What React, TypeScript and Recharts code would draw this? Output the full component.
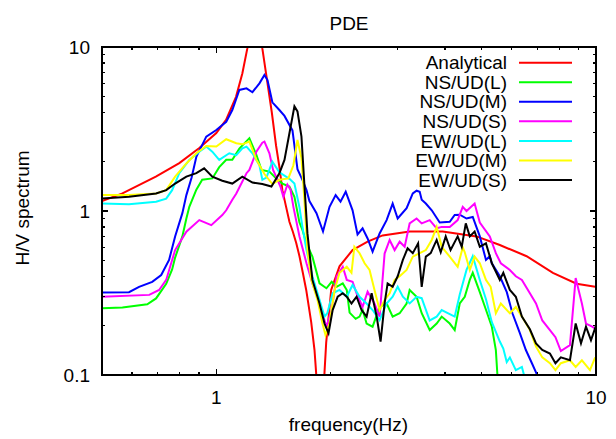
import React from 'react';
import { LineChart, Line, XAxis, YAxis, ReferenceLine } from 'recharts';

const FONT = '"Liberation Sans", Arial, Helvetica, sans-serif';
const W = 616;
const H = 439;
const MARGIN = { top: 47, right: 20, bottom: 34, left: 0 };
const X_AXIS_H = 30;
const Y_AXIS_W = 102;
const PLOT_X = MARGIN.left + Y_AXIS_W;
const PLOT_Y = MARGIN.top;
const PLOT_W = W - MARGIN.left - MARGIN.right - Y_AXIS_W;
const PLOT_H = H - MARGIN.top - MARGIN.bottom - X_AXIS_H;

const X_DOMAIN = [0.5, 10];
const Y_DOMAIN = [0.1, 10];
const X_TICKS = [0.5, 0.6, 0.7, 0.8, 0.9, 1, 2, 3, 4, 5, 6, 7, 8, 9, 10];
const X_MAJOR = [1, 10];
const Y_TICKS = [0.1, 0.2, 0.3, 0.4, 0.5, 0.6, 0.7, 0.8, 0.9, 1, 2, 3, 4, 5, 6, 7, 8, 9, 10];
const Y_MAJOR = [0.1, 1, 10];

const SERIES_NAMES = ['Analytical', 'NS/UD(L)', 'NS/UD(M)', 'NS/UD(S)', 'EW/UD(L)', 'EW/UD(M)', 'EW/UD(S)'];
const SERIES_COLORS = ['#ff0000', '#00ff00', '#0000ff', '#ff00ff', '#00ffff', '#ffff00', '#000000'];

const analyticalFreq = [0.5, 0.566, 0.693, 0.799, 0.902, 1.0, 1.061, 1.127, 1.171, 1.207, 1.265, 1.322, 1.352, 1.40, 1.437, 1.466, 1.493, 1.527, 1.558, 1.59, 1.623, 1.656, 1.69, 1.725, 1.778, 1.814, 1.832, 1.875, 1.927, 1.947, 2.007, 2.111, 2.285, 2.503, 2.742, 3.23, 3.947, 4.845, 5.581, 6.565, 7.70, 8.89, 9.95, 10];
const analyticalVal = [1.15, 1.28, 1.62, 1.96, 2.42, 2.99, 3.59, 4.97, 6.9, 9.8, 40, 9.8, 6.9, 4.0, 2.5, 1.86, 1.34, 1.06, 0.86, 0.75, 0.64, 0.53, 0.42, 0.33, 0.21, 0.142, 0.103, 0.02, 0.103, 0.157, 0.33, 0.46, 0.578, 0.65, 0.71, 0.75, 0.75, 0.70, 0.62, 0.53, 0.42, 0.36, 0.345, 0.345];

const nsLFreq = [0.5, 0.566, 0.658, 0.694, 0.738, 0.765, 0.779, 0.814, 0.834, 0.849, 0.886, 0.918, 0.976, 1.018, 1.062, 1.102, 1.15, 1.222, 1.275, 1.315, 1.38, 1.43, 1.493, 1.558, 1.606, 1.656, 1.686, 1.728, 1.791, 1.87, 1.95, 2.013, 2.075, 2.153, 2.206, 2.244, 2.328, 2.384, 2.428, 2.488, 2.58, 2.692, 2.809, 2.914, 3.04, 3.171, 3.23, 3.369, 3.475, 3.648, 3.805, 3.923, 4.119, 4.245, 4.377, 4.512, 4.651, 4.736, 4.943, 5.131, 5.317, 5.448, 5.5, 5.58];
const nsLVal = [0.255, 0.258, 0.27, 0.293, 0.36, 0.44, 0.52, 0.70, 0.90, 1.06, 1.35, 1.55, 1.58, 1.85, 2.05, 2.05, 2.40, 2.78, 2.20, 1.78, 1.74, 1.60, 1.47, 1.41, 1.22, 0.85, 0.766, 0.635, 0.527, 0.362, 0.338, 0.37, 0.345, 0.362, 0.33, 0.24, 0.22, 0.227, 0.25, 0.206, 0.197, 0.26, 0.273, 0.227, 0.238, 0.273, 0.33, 0.30, 0.238, 0.188, 0.206, 0.227, 0.206, 0.188, 0.273, 0.30, 0.38, 0.42, 0.32, 0.25, 0.197, 0.142, 0.1, 0.07];

const nsMFreq = [0.5, 0.589, 0.626, 0.678, 0.716, 0.751, 0.779, 0.814, 0.834, 0.861, 0.886, 0.941, 1.0, 1.062, 1.102, 1.15, 1.201, 1.245, 1.299, 1.339, 1.364, 1.405, 1.466, 1.512, 1.587, 1.636, 1.686, 1.728, 1.759, 1.836, 1.91, 1.987, 2.062, 2.124, 2.192, 2.285, 2.355, 2.428, 2.503, 2.58, 2.692, 2.809, 2.914, 3.004, 3.171, 3.292, 3.369, 3.433, 3.475, 3.563, 3.693, 3.876, 4.119, 4.245, 4.377, 4.56, 4.736, 4.943, 5.131, 5.252, 5.317, 5.581, 5.822, 6.024, 6.302, 6.536, 6.78, 7.0, 7.12];
const nsMVal = [0.318, 0.32, 0.345, 0.37, 0.407, 0.503, 0.70, 0.97, 1.25, 1.6, 2.14, 2.84, 3.12, 3.5, 4.13, 5.47, 5.6, 5.3, 6.0, 6.75, 6.29, 4.6, 4.13, 3.8, 3.1, 1.8, 1.55, 1.34, 1.15, 0.97, 0.75, 1.06, 1.25, 1.14, 1.31, 1.01, 0.72, 0.784, 0.68, 0.565, 0.73, 0.88, 1.11, 0.90, 1.04, 1.28, 1.33, 1.31, 1.17, 1.11, 1.01, 0.85, 0.86, 0.945, 0.95, 0.9, 0.92, 0.70, 0.503, 0.53, 0.48, 0.40, 0.32, 0.238, 0.18, 0.142, 0.118, 0.1, 0.085];

const nsSFreq = [0.5, 0.666, 0.707, 0.738, 0.779, 0.834, 0.902, 0.97, 1.037, 1.062, 1.102, 1.129, 1.201, 1.222, 1.275, 1.322, 1.339, 1.38, 1.411, 1.437, 1.475, 1.502, 1.539, 1.568, 1.596, 1.656, 1.728, 1.791, 1.87, 1.95, 2.013, 2.075, 2.153, 2.206, 2.285, 2.341, 2.428, 2.503, 2.61, 2.692, 2.775, 2.861, 2.949, 3.04, 3.134, 3.23, 3.369, 3.475, 3.648, 3.805, 3.923, 4.119, 4.322, 4.457, 4.56, 4.79, 4.943, 5.252, 5.448, 5.615, 5.931, 6.15, 6.38, 6.697, 6.95, 7.22, 7.562, 7.82, 8.08, 8.539, 8.84, 9.18, 9.41, 9.77, 10];
const nsSVal = [0.30, 0.308, 0.33, 0.38, 0.578, 0.748, 0.88, 0.82, 0.945, 1.01, 1.17, 1.28, 1.70, 1.78, 2.30, 2.61, 2.65, 2.25, 1.78, 1.62, 1.41, 1.22, 1.45, 1.35, 1.06, 0.70, 0.48, 0.362, 0.273, 0.197, 0.25, 0.40, 0.457, 0.38, 0.37, 0.315, 0.26, 0.322, 0.273, 0.227, 0.55, 0.666, 0.578, 0.65, 0.605, 0.84, 0.90, 0.84, 0.88, 0.784, 0.80, 0.8, 0.88, 1.06, 1.0, 1.11, 0.85, 0.70, 0.553, 0.48, 0.437, 0.40, 0.38, 0.315, 0.273, 0.215, 0.188, 0.17, 0.14, 0.152, 0.39, 0.273, 0.206, 0.197, 0.19];

const ewLFreq = [0.5, 0.589, 0.694, 0.738, 0.765, 0.799, 0.849, 0.902, 0.941, 0.976, 1.018, 1.082, 1.129, 1.171, 1.201, 1.245, 1.299, 1.322, 1.355, 1.405, 1.466, 1.558, 1.606, 1.656, 1.686, 1.728, 1.791, 1.87, 1.927, 1.96, 2.025, 2.111, 2.206, 2.285, 2.384, 2.488, 2.58, 2.692, 2.809, 2.914, 3.004, 3.10, 3.23, 3.369, 3.475, 3.648, 3.805, 3.923, 4.119, 4.245, 4.377, 4.56, 4.736, 4.943, 5.131, 5.317, 5.581, 5.70, 5.82, 5.931, 6.15, 6.38, 6.54];
const ewLVal = [1.11, 1.10, 1.14, 1.19, 1.34, 1.70, 2.05, 2.30, 2.47, 2.30, 2.05, 2.25, 2.19, 2.41, 2.47, 2.25, 1.9, 1.55, 1.6, 2.0, 1.72, 1.57, 1.47, 1.05, 0.80, 0.578, 0.40, 0.287, 0.227, 0.238, 0.315, 0.33, 0.30, 0.354, 0.30, 0.273, 0.249, 0.216, 0.273, 0.30, 0.345, 0.30, 0.273, 0.30, 0.294, 0.215, 0.227, 0.249, 0.235, 0.227, 0.31, 0.437, 0.53, 0.38, 0.29, 0.21, 0.16, 0.145, 0.12, 0.128, 0.107, 0.112, 0.09];

const ewMFreq = [0.5, 0.589, 0.694, 0.738, 0.779, 0.834, 0.886, 0.941, 1.0, 1.062, 1.129, 1.171, 1.222, 1.275, 1.339, 1.405, 1.466, 1.548, 1.596, 1.636, 1.676, 1.706, 1.738, 1.78, 1.847, 1.904, 1.939, 1.987, 2.05, 2.111, 2.206, 2.27, 2.31, 2.384, 2.458, 2.533, 2.61, 2.692, 2.775, 2.861, 2.949, 3.04, 3.171, 3.292, 3.433, 3.563, 3.693, 3.805, 3.923, 4.119, 4.322, 4.457, 4.512, 4.651, 4.79, 4.943, 5.131, 5.28, 5.448, 5.615, 5.931, 6.15, 6.38, 6.697, 6.95, 7.22, 7.562, 7.82, 8.08, 8.539, 8.84, 9.18, 9.642, 9.95];
const ewMVal = [1.25, 1.25, 1.28, 1.34, 1.62, 1.95, 2.25, 2.49, 2.47, 2.74, 2.59, 2.55, 2.65, 2.05, 1.68, 1.46, 1.55, 1.58, 1.9, 2.71, 2.1, 1.17, 0.578, 0.38, 0.287, 0.206, 0.175, 0.206, 0.33, 0.42, 0.457, 0.42, 0.605, 0.553, 0.48, 0.437, 0.33, 0.249, 0.287, 0.315, 0.38, 0.40, 0.437, 0.527, 0.553, 0.578, 0.666, 0.80, 0.605, 0.527, 0.457, 0.6, 0.56, 0.437, 0.527, 0.48, 0.38, 0.345, 0.238, 0.273, 0.238, 0.26, 0.227, 0.188, 0.149, 0.128, 0.118, 0.107, 0.118, 0.123, 0.112, 0.123, 0.107, 0.128];

const ewSFreq = [0.5, 0.589, 0.694, 0.738, 0.779, 0.834, 0.886, 0.929, 0.976, 1.037, 1.102, 1.171, 1.245, 1.322, 1.397, 1.466, 1.512, 1.558, 1.606, 1.636, 1.676, 1.706, 1.738, 1.791, 1.87, 1.927, 1.975, 2.025, 2.088, 2.153, 2.206, 2.27, 2.341, 2.413, 2.488, 2.565, 2.645, 2.708, 2.775, 2.826, 2.914, 3.004, 3.10, 3.19, 3.292, 3.40, 3.475, 3.563, 3.67, 3.805, 3.90, 4.02, 4.14, 4.322, 4.43, 4.54, 4.651, 4.79, 4.943, 5.131, 5.317, 5.581, 5.70, 5.931, 6.15, 6.38, 6.697, 6.95, 7.22, 7.562, 7.82, 8.08, 8.539, 8.84, 9.13, 9.41, 9.70, 10];
const ewSVal = [1.19, 1.22, 1.28, 1.34, 1.47, 1.62, 1.70, 1.82, 1.62, 1.53, 1.47, 1.62, 1.49, 1.46, 1.41, 1.70, 2.05, 2.98, 4.35, 4.05, 2.84, 1.45, 0.73, 0.38, 0.273, 0.206, 0.18, 0.249, 0.30, 0.315, 0.30, 0.273, 0.30, 0.249, 0.227, 0.315, 0.227, 0.16, 0.273, 0.362, 0.345, 0.40, 0.503, 0.592, 0.553, 0.635, 0.345, 0.527, 0.553, 0.666, 0.56, 0.70, 0.578, 0.70, 0.605, 0.84, 0.70, 0.75, 0.605, 0.635, 0.48, 0.38, 0.42, 0.33, 0.30, 0.227, 0.19, 0.156, 0.142, 0.135, 0.118, 0.128, 0.123, 0.206, 0.156, 0.197, 0.163, 0.2];

const zip = (fs: number[], vs: number[]) => {
  const n = Math.min(fs.length, vs.length);
  const out: { f: number; v: number }[] = [];
  for (let i = 0; i < n; i++) out.push({ f: fs[i], v: vs[i] });
  return out;
};

const SERIES_DATA = [
  zip(analyticalFreq, analyticalVal),
  zip(nsLFreq, nsLVal),
  zip(nsMFreq, nsMVal),
  zip(nsSFreq, nsSVal),
  zip(ewLFreq, ewLVal),
  zip(ewMFreq, ewMVal),
  zip(ewSFreq, ewSVal),
];

const isMajor = (v: number, majors: number[]) => majors.some((m) => Math.abs(m - v) < 1e-9);

// Bottom axis tick: inward tick on the bottom edge plus its mirror on the top edge.
const BottomTick = (props: any) => {
  const { x, y, payload } = props;
  const v = payload.value;
  const major = isMajor(v, X_MAJOR);
  const len = major ? 6 : 3;
  const yTop = y - PLOT_H;
  return (
    <g>
      <path
        d={`M${x},${y}V${y - len}M${x},${yTop}V${yTop + len}`}
        stroke="#000"
        strokeWidth={1.3}
        fill="none"
        shapeRendering="crispEdges"
      />
      {major && (
        <text x={x} y={y + 28.5} textAnchor="middle" fontSize={19} fontFamily={FONT} fill="#000">
          {String(v)}
        </text>
      )}
    </g>
  );
};

// Left axis tick: inward tick on the left edge plus its mirror on the right edge.
const LeftTick = (props: any) => {
  const { x, y, payload } = props;
  const v = payload.value;
  const major = isMajor(v, Y_MAJOR);
  const len = major ? 6 : 3;
  const xRight = x + PLOT_W;
  return (
    <g>
      <path
        d={`M${x},${y}H${x + len}M${xRight},${y}H${xRight - len}`}
        stroke="#000"
        strokeWidth={1.3}
        fill="none"
        shapeRendering="crispEdges"
      />
      {major && (
        <text x={x - 12} y={y + 7} textAnchor="end" fontSize={19} fontFamily={FONT} fill="#000">
          {String(v)}
        </text>
      )}
    </g>
  );
};

const AXIS_LINE = { stroke: '#000', strokeWidth: 1.3, shapeRendering: 'crispEdges' };

export default function App() {
  const rowY0 = 62.7;
  const rowStep = 19.55;
  return (
    <div style={{ position: 'absolute', left: 0, top: 0, width: W, height: H, background: '#fff' }}>
      <LineChart width={W} height={H} margin={MARGIN}>
        <XAxis
          dataKey="f"
          type="number"
          scale="log"
          domain={X_DOMAIN}
          allowDataOverflow
          ticks={X_TICKS}
          interval={0}
          tickSize={0}
          tickMargin={0}
          tickLine={false}
          height={X_AXIS_H}
          axisLine={AXIS_LINE}
          tick={<BottomTick />}
        />
        <YAxis
          type="number"
          scale="log"
          domain={Y_DOMAIN}
          allowDataOverflow
          ticks={Y_TICKS}
          interval={0}
          tickSize={0}
          tickMargin={0}
          tickLine={false}
          width={Y_AXIS_W}
          axisLine={AXIS_LINE}
          tick={<LeftTick />}
        />
        <ReferenceLine y={Y_DOMAIN[1]} stroke="#000" strokeWidth={1.3} ifOverflow="visible" />
        <ReferenceLine x={X_DOMAIN[1]} stroke="#000" strokeWidth={1.3} ifOverflow="visible" />
        {SERIES_DATA.map((d, i) => (
          <Line
            key={SERIES_NAMES[i]}
            name={SERIES_NAMES[i]}
            data={d}
            dataKey="v"
            type="linear"
            stroke={SERIES_COLORS[i]}
            strokeWidth={2}
            dot={false}
            activeDot={false}
            isAnimationActive={false}
          />
        ))}
      </LineChart>
      <svg
        width={W}
        height={H}
        style={{ position: 'absolute', left: 0, top: 0, pointerEvents: 'none' }}
        fontFamily={FONT}
      >
        <rect
          x={PLOT_X}
          y={PLOT_Y}
          width={PLOT_W}
          height={PLOT_H}
          fill="none"
          stroke="#000"
          strokeWidth={1.3}
          shapeRendering="crispEdges"
        />
        <text x={349} y={29.5} textAnchor="middle" fontSize={19} fill="#000">
          PDE
        </text>
        <text x={348.5} y={431} textAnchor="middle" fontSize={19} fill="#000">
          frequency(Hz)
        </text>
        <text transform="translate(29,208) rotate(-90)" textAnchor="middle" fontSize={19} fill="#000">
          H/V spectrum
        </text>
        {SERIES_NAMES.map((name, i) => {
          const ry = rowY0 + i * rowStep;
          return (
            <g key={name}>
              <text x={507} y={ry + 6.6} textAnchor="end" fontSize={19} fill="#000">
                {name}
              </text>
              <line x1={519} x2={572} y1={ry} y2={ry} stroke={SERIES_COLORS[i]} strokeWidth={2} />
            </g>
          );
        })}
      </svg>
    </div>
  );
}
